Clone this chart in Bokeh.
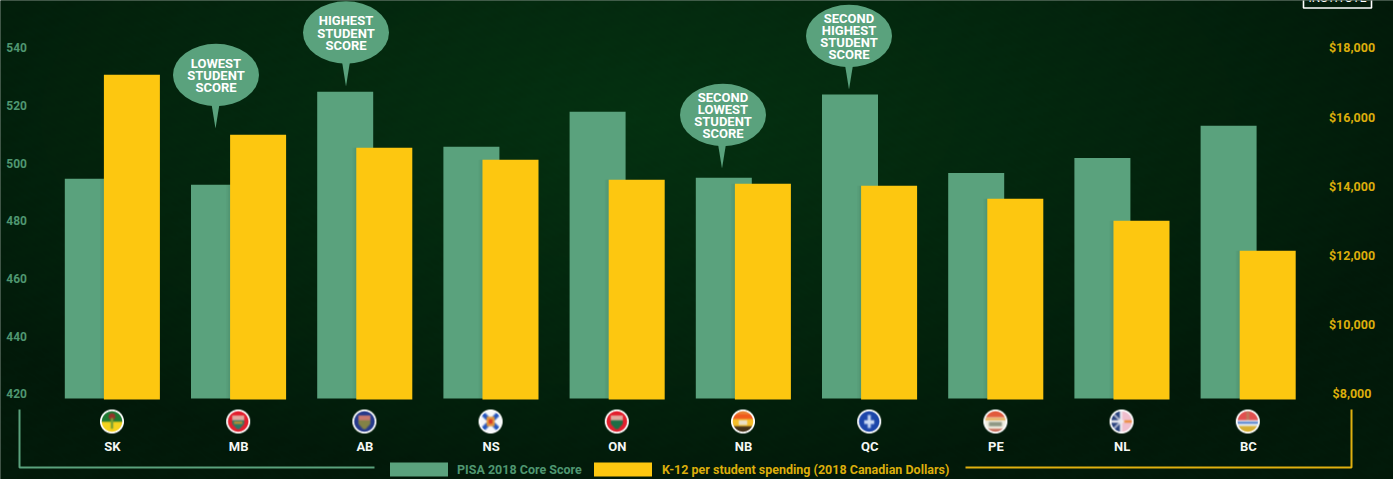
import numpy as np
from bokeh.embed import file_html
from bokeh.models import FixedTicker, LinearAxis, Range1d
from bokeh.plotting import figure
from bokeh.resources import INLINE
from bokeh.core.properties import value

provinces = ["SK", "MB", "AB", "NS", "ON", "NB", "QC", "PE", "NL", "BC"]
pisa_scores = [494.6, 492.5, 524.8, 505.7, 517.8, 494.9, 523.8, 496.6, 501.8, 513.0]
spending = [17220, 15485, 15110, 14763, 14185, 14069, 14011, 13636, 13000, 12133]
score_ticks = [420, 440, 460, 480, 500, 520, 540]
spend_ticks = [8000, 10000, 12000, 14000, 16000, 18000]
score_floor = 418.4
spend_floor = 7835

callout_lines = [
    ["LOWEST", "STUDENT", "SCORE"],
    ["HIGHEST", "STUDENT", "SCORE"],
    ["SECOND", "LOWEST", "STUDENT", "SCORE"],
    ["SECOND", "HIGHEST", "STUDENT", "SCORE"],
]
callout_centre = [(215.5, 74.5), (345.5, 32), (722.5, 114.5), (848.5, 35.5)]
callout_tip = [(215, 128), (345.5, 86), (721.5, 168), (848.5, 89)]

GREEN = "#5aa27d"
YELLOW = "#fdc710"
GOLD = "#dcae0c"
AXIS_GREEN = "#4f9771"
FONT = "Roboto"
W, H = 1393, 479
SPACING = 126.2
FIRST = 112.0
ZERO_LINE = 393.3


def to_group(px):
    return (px - FIRST) / SPACING


def py(y):
    return H - y


score_per_px = 120 / 346
spend_per_px = 10000 / 346

p = figure(
    width=W, height=H, output_backend="svg", toolbar_location=None,
    x_range=Range1d(to_group(0), to_group(W)),
    y_range=Range1d(420 - (H - ZERO_LINE) * score_per_px, 420 + ZERO_LINE * score_per_px),
    min_border=0, min_border_left=0, min_border_right=0, min_border_top=0, min_border_bottom=0,
    x_axis_location=None, y_axis_location=None,
)
p.grid.visible = False
p.outline_line_color = None
p.background_fill_color = "#03200c"
p.border_fill_color = "#03200c"
p.extra_y_ranges = {
    "spend": Range1d(8000 - (H - ZERO_LINE) * spend_per_px, 8000 + ZERO_LINE * spend_per_px),
    "py": Range1d(0, H),
}
p.extra_x_ranges = {"px": Range1d(0, W)}


# Dark chalkboard backdrop: a soft green glow fading towards the edges.
pad = 3
yy, xx = np.mgrid[0:H + 2 * pad, 0:W + 2 * pad]
dist = np.sqrt(((xx - 640) / 800.0) ** 2 + ((yy - 120) / 360.0) ** 2)
glow = np.clip(1 - dist, 0, 1) ** 0.8
mottle = (np.sin(xx * 0.13 + yy * 0.29) * np.sin(xx * 0.041 - yy * 0.17) + np.sin(xx * 0.57 - yy * 0.83) * 0.5) * 0.8
bg = np.zeros((H + 2 * pad, W + 2 * pad, 4), dtype=np.uint8)
bg[..., 0] = np.clip(2 + 3 * glow, 0, 255)
bg[..., 1] = np.clip(26 + 23 * glow + mottle, 0, 255)
bg[..., 2] = np.clip(10 + 7 * glow + mottle * 0.3, 0, 255)
bg[..., 3] = 255
p.image_rgba(image=[bg[::-1].view(np.uint32).reshape(H + 2 * pad, W + 2 * pad)], x=-pad, y=-pad,
             dw=W + 2 * pad, dh=H + 2 * pad, x_range_name="px", y_range_name="py")


# Bars, with a faint shadow where the spending bar overlaps the score bar
idx = np.arange(len(provinces))
GREEN_OFFSET = -19.7 / SPACING
YELLOW_OFFSET = 19.4 / SPACING
BAR_WIDTH = 56 / SPACING
p.vbar(x=idx + GREEN_OFFSET, width=BAR_WIDTH, bottom=score_floor, top=pisa_scores,
       fill_color=GREEN, line_color=None)

spend_on_score = 420 + (np.array(spending) - 8000) * 120 / 10000
shadow_top = np.minimum(np.array(pisa_scores), spend_on_score)
yellow_left = idx + YELLOW_OFFSET - BAR_WIDTH / 2
for k, alpha in enumerate([0.10, 0.07, 0.045, 0.025]):
    p.vbar(x=yellow_left - (k + 0.5) / SPACING, width=1 / SPACING, bottom=score_floor, top=shadow_top,
           fill_color="#123020", fill_alpha=alpha, line_color=None)

p.vbar(x=idx + YELLOW_OFFSET, width=BAR_WIDTH, bottom=spend_floor, top=spending,
       fill_color=YELLOW, line_color=None, y_range_name="spend")


# Value axes drawn inside the frame, without lines or ticks.
def style(axis, color, size):
    axis.axis_line_color = None
    axis.major_tick_line_color = None
    axis.minor_tick_line_color = None
    axis.major_label_standoff = 0
    axis.major_label_text_color = color
    axis.major_label_text_font = FONT
    axis.major_label_text_font_style = "bold"
    axis.major_label_text_font_size = size


left = LinearAxis(ticker=FixedTicker(ticks=score_ticks), fixed_location=to_group(32.5))
style(left, AXIS_GREEN, "12px")
p.add_layout(left, "left")

bottom = LinearAxis(ticker=FixedTicker(ticks=list(idx)),
                    fixed_location=420 + (ZERO_LINE - 432) * score_per_px,
                    major_label_overrides={int(i): n for i, n in enumerate(provinces)})
style(bottom, "#f4f7f4", "13px")
p.add_layout(bottom, "below")

# Dollar labels are centred on a common line, so they are set as text on the spending scale.
p.text(x=[1351.5] * len(spend_ticks), y=spend_ticks, text=[f"${t:,}" for t in spend_ticks], text_color=GOLD,
       text_font=value(FONT), text_font_style="bold", text_font_size="12.5px", text_align="center",
       text_baseline="middle", x_range_name="px", y_range_name="spend")


# Speech bubbles
for lines, (cx, cy), (tx, ty) in zip(callout_lines, callout_centre, callout_tip):
    p.ellipse(x=[cx], y=[py(cy)], width=86, height=62.5, fill_color=GREEN, line_color=None,
              x_range_name="px", y_range_name="py")
    p.patch(x=[tx - 4, tx + 4, tx], y=[py(cy + 29), py(cy + 29), py(ty)], fill_color=GREEN, line_color=None,
            x_range_name="px", y_range_name="py")
    n = len(lines)
    ys = [py(cy + 0.5 + (i - (n - 1) / 2) * 12.3) for i in range(n)]
    p.text(x=[cx] * n, y=ys, text=lines, text_color="#ffffff", text_font=value(FONT), text_font_style="bold",
           text_font_size="13px", text_align="center", text_baseline="middle",
           x_range_name="px", y_range_name="py")


# Provincial flag badges
def badge(kind):
    ss = 4
    n = 24 * ss
    v, u = np.mgrid[0:n, 0:n]
    u = (u + 0.5) / n * 2 - 1
    v = (v + 0.5) / n * 2 - 1
    c = np.zeros((n, n, 3), dtype=float)

    def paint(mask, col):
        c[mask] = col

    red = (226, 30, 45)
    blue = (38, 58, 140)
    if kind == "SK":
        paint(v < 0.02, (30, 120, 50))
        paint(v >= 0.02, (245, 210, 30))
        paint((u ** 2 + (v + 0.4) ** 2) < 0.08, (150, 50, 40))
        paint((np.abs(u) < 0.1) & (v > -0.3) & (v < 0.6), (120, 160, 50))
    elif kind in ("MB", "ON"):
        paint(np.ones_like(u, bool), red)
        paint((np.abs(u) < 0.5) & (v > -0.5) & (v < -0.1), (225, 170, 160))
        shield = (np.abs(u) < 0.5 - np.maximum(v - 0.2, 0) * 0.9) & (v >= -0.1) & (v < 0.65)
        paint(shield, (30, 110, 70) if kind == "ON" else (40, 120, 100))
        if kind == "MB":
            paint((np.abs(u) < 0.35) & (v > 0.0) & (v < 0.2), (190, 140, 50))
    elif kind == "AB":
        paint(np.ones_like(u, bool), blue)
        paint((np.abs(u) < 0.5) & (v > -0.5) & (v < -0.1), (200, 120, 110))
        paint((np.abs(u) < 0.5 - np.maximum(v - 0.2, 0) * 0.9) & (v >= -0.1) & (v < 0.65), (130, 130, 70))
    elif kind == "NS":
        paint(np.ones_like(u, bool), (245, 247, 250))
        paint((np.abs(np.abs(u) - np.abs(v)) < 0.26), (35, 85, 190))
        paint((np.abs(u) < 0.34) & (np.abs(v) < 0.4), (225, 150, 60))
        paint((np.abs(u) < 0.14) & (np.abs(v) < 0.18), (215, 50, 40))
    elif kind == "NB":
        paint(v < -0.2, (240, 90, 30))
        paint((v >= -0.2) & (v < 0.4), (245, 190, 40))
        paint(v >= 0.4, (70, 50, 25))
        paint((np.abs(u) < 0.35) & (np.abs(v - 0.1) < 0.2), (235, 225, 200))
        paint(v < -0.6, (235, 130, 50))
    elif kind == "QC":
        paint(np.ones_like(u, bool), (28, 70, 170))
        paint((np.abs(u) < 0.12) & (np.abs(v) < 0.55), (205, 220, 245))
        paint((np.abs(u) < 0.42) & (np.abs(v - 0.05) < 0.16), (205, 220, 245))
    elif kind == "PE":
        paint(np.ones_like(u, bool), (240, 238, 225))
        paint(v < -0.35, (225, 90, 60))
        paint((v > -0.3) & (v < -0.1), (230, 170, 80))
        paint((np.abs(u) < 0.55) & (v > 0.05) & (v < 0.4), (140, 150, 130))
        paint(v > 0.6, (200, 110, 90))
    elif kind == "NL":
        paint(u < -0.05, (40, 65, 125))
        paint(u >= -0.05, (240, 190, 205))
        paint(np.abs(v) < 0.1, (240, 240, 245))
        paint(np.abs(u + 0.05) < 0.1, (240, 240, 245))
        paint((u < -0.05) & (np.abs(np.abs(u + 0.05) - np.abs(v)) < 0.08), (225, 225, 235))
        paint((u > 0.2) & (np.abs(v) < 0.1), (235, 140, 60))
    else:
        paint(v < -0.1, (225, 80, 80))
        paint((np.abs(u) < 0.12) & (v < -0.1), (190, 120, 90))
        paint((v >= -0.1) & (v < 0.38), (235, 240, 250))
        paint((v >= -0.1) & (v < 0.38) & (np.sin(v * 16) > 0.2), (70, 120, 200))
        paint(v >= 0.38, (215, 175, 50))

    r = np.sqrt(u ** 2 + v ** 2)
    alpha = (r <= 1.0).astype(float) * 255
    # Box-filter down to one pixel per cell, then soften the flag before adding its white ring.
    rgba = np.dstack([c, alpha])
    small = rgba.reshape(24, ss, 24, ss, 4).mean(axis=(1, 3))
    soft = small.copy()
    soft[1:-1, 1:-1, :3] = (
        small[1:-1, 1:-1, :3] * 2 + small[:-2, 1:-1, :3] + small[2:, 1:-1, :3]
        + small[1:-1, :-2, :3] + small[1:-1, 2:, :3]
    ) / 6
    ring = np.clip(((r > 0.85).astype(float)).reshape(24, ss, 24, ss).mean(axis=(1, 3)), 0, 1)[..., None]
    soft[..., :3] = soft[..., :3] * (1 - ring) + 255 * ring
    return soft.round().astype(np.uint8)[::-1].copy().view(np.uint32).reshape(24, 24)


for i, name in enumerate(provinces):
    cx = FIRST + SPACING * i - 0.5
    p.image_rgba(image=[badge(name)], x=cx - 12, y=py(433), dw=24, dh=24,
                 x_range_name="px", y_range_name="py")


# Bracket lines and legend along the bottom edge
p.line(x=[19, 19, 374], y=[py(409), py(467), py(467)], line_color=GREEN, line_width=2, x_range_name="px", y_range_name="py")
p.line(x=[965, 1351, 1351], y=[py(467), py(467), py(409)], line_color="#e0b010", line_width=2, x_range_name="px", y_range_name="py")
p.quad(left=[389.5], right=[447.5], top=[py(462)], bottom=[py(476)], fill_color=GREEN, line_color=None, x_range_name="px", y_range_name="py")
p.quad(left=[593.5], right=[651.5], top=[py(462)], bottom=[py(476)], fill_color=YELLOW, line_color=None, x_range_name="px", y_range_name="py")
p.text(x=[456.5], y=[py(469)], text=["PISA 2018 Core Score"], text_color=AXIS_GREEN, text_font=value(FONT),
       text_font_style="bold", text_font_size="12.5px", text_baseline="middle", x_range_name="px", y_range_name="py")
p.text(x=[661.5], y=[py(469)], text=["K-12 per student spending (2018 Canadian Dollars)"], text_color=GOLD,
       text_font=value(FONT), text_font_style="bold", text_font_size="12.5px", text_baseline="middle",
       x_range_name="px", y_range_name="py")

# Masthead box running off the top of the page
p.line(x=[1303, 1303, 1371, 1371], y=[py(-3), py(7.5), py(7.5), py(-3)], line_color="#ffffff", line_width=1.6,
       x_range_name="px", y_range_name="py")
p.text(x=[1337], y=[py(4)], text=["INSTITUTE"], text_color="#ffffff", text_font=value(FONT),
       text_font_size="12px", text_align="center", text_baseline="bottom", x_range_name="px", y_range_name="py")

open("out.html", "w").write(file_html(p, INLINE))
